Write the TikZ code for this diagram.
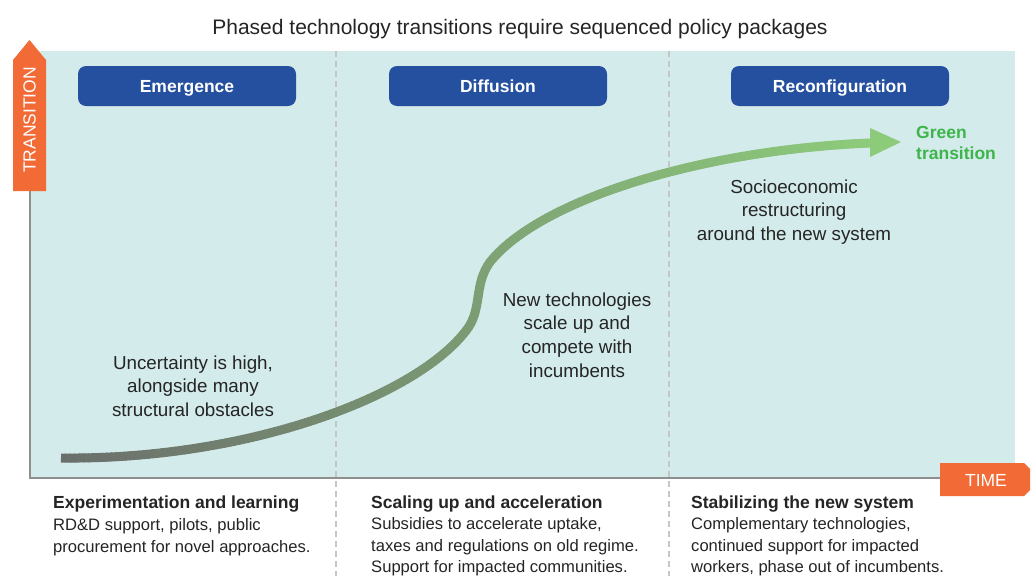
\documentclass[tikz,border=0pt]{standalone}
\usepackage{fontspec}
\setmainfont{Liberation Sans}
\usetikzlibrary{decorations.markings}
\definecolor{panel}{HTML}{D3EBEB}
\definecolor{hblue}{HTML}{254F9F}
\definecolor{orng}{HTML}{F26B36}
\definecolor{gtext}{HTML}{3DB54A}
\definecolor{cgray}{HTML}{6B6F6C}
\definecolor{cgreen}{HTML}{8DCB7B}
\definecolor{axisgray}{HTML}{8F8F8F}
\definecolor{dashgray}{HTML}{C6C6C6}
\definecolor{txt}{HTML}{252525}
\begin{document}
\begin{tikzpicture}[x=1pt,y=-1pt,
 header/.style={fill=hblue, rounded corners=8pt, minimum width=218pt, minimum height=40pt, text=white, font=\bfseries\fontsize{17.5}{20}\selectfont, inner sep=0pt, text height=14pt, text depth=2pt},
 paneltext/.style={align=center, text=txt, font=\fontsize{18.8}{23.6}\selectfont, inner sep=0pt},
 bhead/.style={anchor=base west, text=txt, font=\bfseries\fontsize{17.5}{21}\selectfont, inner sep=0pt},
 bbody/.style={anchor=west, align=left, text=txt, font=\fontsize{16.6}{21.5}\selectfont, inner sep=0pt},
 divider/.style={dashgray, line width=2pt, dash pattern=on 6pt off 4pt},
 axisline/.style={axisgray, line width=2pt},
 arrowlbl/.style={text=white, font=\fontsize{17.5}{20}\selectfont, inner sep=0pt},
 curveseg/.style={line width=9pt, line cap=round}]

\useasboundingbox (0,0) rectangle (1034,576);
\fill[white] (0,0) rectangle (1034,576);
\fill[panel] (30,51) rectangle (1015,478);

% dividers
\coordinate (d1t) at (336,51); \coordinate (d1b) at (336,576);
\coordinate (d2t) at (669,51); \coordinate (d2b) at (669,576);
\draw[divider] (d1t) -- (d1b);
\draw[divider] (d2t) -- (d2b);

% axes
\coordinate (yax0) at (30,479); \coordinate (yax1) at (30,191);
\coordinate (xax0) at (29,478); \coordinate (xax1) at (940,478);
\draw[axisline] (yax0) -- (yax1);
\draw[axisline] (xax0) -- (xax1);

% transition arrow
\fill[orng] (13,191) -- (13,60) -- (29.5,40) -- (46,60) -- (46,191) -- cycle;
\node[arrowlbl, rotate=90] (ylab) at (29.5,120) {TRANSITION};

% time arrow
\fill[orng] (940,463) -- (1024,463) -- (1030,469) -- (1030,490) -- (1024,496) -- (940,496) -- cycle;
\node[arrowlbl] (xlab) at (986,480) {TIME};

% title
\node[font=\fontsize{21}{24}\selectfont, text=txt, inner sep=0pt] (title) at (520,29) {Phased technology transitions require sequenced policy packages};

% headers
\node[header] (h1) at (187,86) {Emergence};
\node[header] (h2) at (498,86) {Diffusion};
\node[header] (h3) at (840,86) {Reconfiguration};

% curve with gradient
\coordinate (cstart) at (61,458);
\coordinate (cend) at (870,143);
\path[decorate, decoration={markings, mark=between positions 0 and 1 step 0.005 with {\coordinate (c\pgfkeysvalueof{/pgf/decoration/mark info/sequence number});}}]
 (cstart) .. controls (250,460) and (420,395) .. (468,328)
 .. controls (482,308) and (474,284) .. (490,262)
 .. controls (540,200) and (700,150) .. (cend);
\draw[line width=9pt, line cap=butt, cgray] (c1) -- (c2);
\foreach \i in {2,...,199}{
  \pgfmathtruncatemacro{\j}{\i+1}
  \pgfmathsetmacro{\p}{(\i-1)/2}
  \draw[curveseg, cgreen!\p!cgray] (c\i) -- (c\j);
}
\draw[curveseg, cgreen] (c200) -- (cend);
\coordinate (tipa) at (870,128);
\coordinate (tipb) at (901,142);
\coordinate (tipc) at (870,157);
\fill[cgreen] (tipa) -- (tipb) -- (tipc) -- cycle;

% panel texts
\node[paneltext] (t1) at (193,386) {Uncertainty is high,\\alongside many\\structural obstacles};
\node[paneltext] (t2) at (577,335) {New technologies\\scale up and\\compete with\\incumbents};
\node[paneltext] (t3) at (794,212) {Socioeconomic\\restructuring\\around the new system};
\node[anchor=west, align=left, text=gtext, font=\bfseries\fontsize{17.5}{21}\selectfont, inner sep=0pt] (gt) at (916,143) {Green\\transition};

% bottom texts
\node[bhead] (b1h) at (53,508) {Experimentation and learning};
\node[bbody] (b1b) at (53,537) {RD\&D support, pilots, public\\procurement for novel approaches.};
\node[bhead] (b2h) at (371,508) {Scaling up and acceleration};
\node[bbody] (b2b) at (371,547) {Subsidies to accelerate uptake,\\taxes and regulations on old regime.\\Support for impacted communities.};
\node[bhead] (b3h) at (691,508) {Stabilizing the new system};
\node[bbody] (b3b) at (691,547) {Complementary technologies,\\continued support for impacted\\workers, phase out of incumbents.};
\end{tikzpicture}
\end{document}
